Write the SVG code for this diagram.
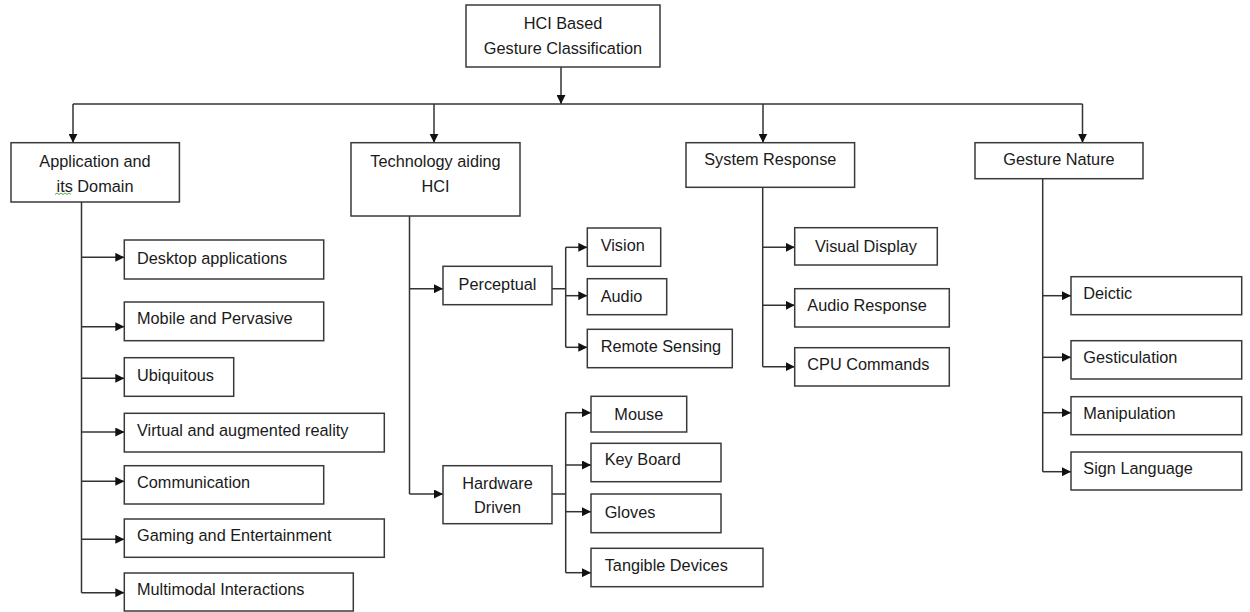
<svg xmlns="http://www.w3.org/2000/svg" width="1250" height="612" viewBox="0 0 1250 612">
<style>
.box{fill:#fff;stroke:#3a3a3a;stroke-width:1.5}
.t{font-family:"Liberation Sans",Arial,sans-serif;font-size:16.3px;fill:#1a1a1a}
.c{text-anchor:middle}
.ln{fill:none;stroke:#333;stroke-width:1.5}
.ar{fill:none;stroke:#333;stroke-width:1.5;marker-end:url(#ah)}
</style>
<defs>
<marker id="ah" viewBox="0 0 10 10" refX="10" refY="5" markerWidth="9" markerHeight="9" markerUnits="userSpaceOnUse" orient="auto">
<path d="M0,0 L10,5 L0,10 z" fill="#111"/>
</marker>
</defs>
<rect width="1250" height="612" fill="#fff"/>
<g id="connectors">
<path class="ar" d="M561,67 V104"/>
<path class="ln" d="M73,104 H1082.5"/>
<path class="ar" d="M73,104 V142.7"/>
<path class="ar" d="M434,104 V142.7"/>
<path class="ar" d="M763,104 V142.7"/>
<path class="ar" d="M1082.5,104 V142.7"/>
<path class="ln" d="M81.5,202 V592.7"/>
<path class="ar" d="M81.5,257.3 H124.3"/>
<path class="ar" d="M81.5,326.7 H124.3"/>
<path class="ar" d="M81.5,378.3 H124.3"/>
<path class="ar" d="M81.5,432 H124.3"/>
<path class="ar" d="M81.5,481.3 H124.3"/>
<path class="ar" d="M81.5,539.3 H124.3"/>
<path class="ar" d="M81.5,592.7 H124.3"/>
<path class="ln" d="M409.5,216 V494"/>
<path class="ar" d="M409.5,288.7 H443"/>
<path class="ar" d="M409.5,494 H443"/>
<path class="ln" d="M552,288.7 H565.7 M565.7,247.3 V347.3"/>
<path class="ar" d="M565.7,247.3 H587.3"/>
<path class="ar" d="M565.7,295.7 H587.3"/>
<path class="ar" d="M565.7,347.3 H587.3"/>
<path class="ln" d="M552,494 H565.7 M565.7,412.7 V572.7"/>
<path class="ar" d="M565.7,412.7 H591"/>
<path class="ar" d="M565.7,465 H591"/>
<path class="ar" d="M565.7,511.7 H591"/>
<path class="ar" d="M565.7,572.7 H591"/>
<path class="ln" d="M762.7,187.3 V366.7"/>
<path class="ar" d="M762.7,247.3 H794.7"/>
<path class="ar" d="M762.7,305.3 H794.7"/>
<path class="ar" d="M762.7,366.7 H794.7"/>
<path class="ln" d="M1042.7,178.7 V471.7"/>
<path class="ar" d="M1042.7,295.7 H1071"/>
<path class="ar" d="M1042.7,357.3 H1071"/>
<path class="ar" d="M1042.7,412.7 H1071"/>
<path class="ar" d="M1042.7,471.7 H1071"/>
</g>
<g id="root"><rect class="box" x="466" y="5" width="194" height="62"/><text class="t c" x="563" y="29">HCI Based</text><text class="t c" x="563" y="54">Gesture Classification</text></g>
<g id="app"><rect class="box" x="11" y="142.7" width="168.4" height="59.3"/><text class="t c" x="95" y="166.5">Application and</text><text class="t c" x="95" y="191.5">its Domain</text><path d="M55,194.5 l2,-1.5 l2,1.5 l2,-1.5 l2,1.5 l2,-1.5 l2,1.5 l2,-1.5 l2,1.5" fill="none" stroke="#4a9a3a" stroke-width="0.9"/></g>
<g id="tech"><rect class="box" x="351" y="142.7" width="169" height="73.3"/><text class="t c" x="435.5" y="166.5">Technology aiding</text><text class="t c" x="435.5" y="191.5">HCI</text></g>
<g id="sys"><rect class="box" x="686" y="142.7" width="168.6" height="44.6"/><text class="t c" x="770.3" y="165">System Response</text></g>
<g id="nature"><rect class="box" x="975" y="142.7" width="168" height="36"/><text class="t c" x="1059" y="165">Gesture Nature</text></g>
<g id="desktop"><rect class="box" x="124.3" y="240" width="199.4" height="39"/><text class="t" x="137" y="263.5">Desktop applications</text></g>
<g id="mobile"><rect class="box" x="124.3" y="302" width="199.4" height="38.7"/><text class="t" x="137" y="324.3">Mobile and Pervasive</text></g>
<g id="ubiq"><rect class="box" x="124.3" y="357.7" width="109.4" height="38.6"/><text class="t" x="137" y="381.3">Ubiquitous</text></g>
<g id="virtual"><rect class="box" x="124.3" y="413.3" width="260" height="38.7"/><text class="t" x="137" y="436">Virtual and augmented reality</text></g>
<g id="comm"><rect class="box" x="124.3" y="465.7" width="199.4" height="38.3"/><text class="t" x="137" y="487.7">Communication</text></g>
<g id="gaming"><rect class="box" x="124.3" y="519" width="260" height="38.3"/><text class="t" x="137" y="541">Gaming and Entertainment</text></g>
<g id="multi"><rect class="box" x="124.3" y="573" width="229" height="38"/><text class="t" x="137" y="595.3">Multimodal Interactions</text></g>
<g id="percep"><rect class="box" x="443" y="266.3" width="109" height="38.4"/><text class="t c" x="497.5" y="290">Perceptual</text></g>
<g id="hw"><rect class="box" x="443" y="465.7" width="109" height="58"/><text class="t c" x="497.5" y="489.3">Hardware</text><text class="t c" x="497.5" y="513.3">Driven</text></g>
<g id="vision"><rect class="box" x="587.3" y="228" width="73.4" height="38.3"/><text class="t" x="600.7" y="251.3">Vision</text></g>
<g id="audio"><rect class="box" x="587.3" y="278.7" width="79.4" height="36"/><text class="t" x="600.7" y="302">Audio</text></g>
<g id="remote"><rect class="box" x="587.3" y="329.3" width="145" height="38.4"/><text class="t" x="600.7" y="352">Remote Sensing</text></g>
<g id="mouse"><rect class="box" x="591" y="396.3" width="95.7" height="35.7"/><text class="t c" x="638.8" y="419.7">Mouse</text></g>
<g id="keyboard"><rect class="box" x="591" y="443.3" width="130" height="38.4"/><text class="t" x="604.7" y="465.3">Key Board</text></g>
<g id="gloves"><rect class="box" x="591" y="494" width="130" height="38.7"/><text class="t" x="604.7" y="517.7">Gloves</text></g>
<g id="tangible"><rect class="box" x="591" y="548.3" width="172" height="38.4"/><text class="t" x="604.7" y="571">Tangible Devices</text></g>
<g id="visual"><rect class="box" x="794.7" y="227.7" width="142.6" height="37.3"/><text class="t c" x="866" y="251.7">Visual Display</text></g>
<g id="audioresp"><rect class="box" x="794.7" y="288.7" width="154.6" height="38.3"/><text class="t" x="807.3" y="311.3">Audio Response</text></g>
<g id="cpu"><rect class="box" x="794.7" y="347.7" width="154.6" height="38.3"/><text class="t" x="807.3" y="370.3">CPU Commands</text></g>
<g id="deictic"><rect class="box" x="1071" y="276.7" width="170.7" height="38"/><text class="t" x="1083.3" y="299.3">Deictic</text></g>
<g id="gestic"><rect class="box" x="1071" y="340.7" width="170.7" height="38.3"/><text class="t" x="1083.3" y="362.7">Gesticulation</text></g>
<g id="manip"><rect class="box" x="1071" y="396.7" width="170.7" height="38"/><text class="t" x="1083.3" y="419.3">Manipulation</text></g>
<g id="sign"><rect class="box" x="1071" y="452" width="170.7" height="38"/><text class="t" x="1083.3" y="474.3">Sign Language</text></g>
</svg>
